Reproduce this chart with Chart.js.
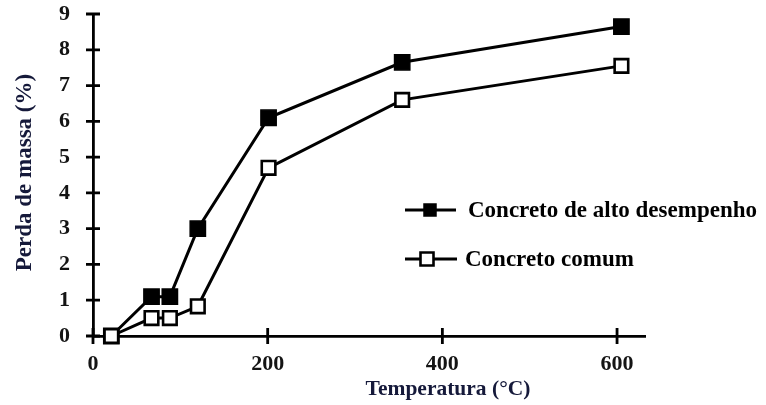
<!DOCTYPE html>
<html>
<head>
<meta charset="utf-8">
<script src="https://cdn.jsdelivr.net/npm/chart.js@4"></script>
<style>
  html, body { margin: 0; padding: 0; background: #fff; }
  canvas { display: block; }
</style>
</head>
<body>
<canvas id="chart" width="766" height="405"></canvas>
<script>
// Mass loss of concrete versus exposure temperature
const temperatures   = [21, 67, 88, 120, 201, 354, 605];
const altoDesempenho = [0, 1.1, 1.1, 3.0, 6.1, 7.65, 8.65];
const comum          = [0, 0.5, 0.5, 0.83, 4.7, 6.6, 7.55];
const xTickValues    = [0, 200, 400, 600];
const yTickValues    = [0, 1, 2, 3, 4, 5, 6, 7, 8, 9];
const seriesNames    = ['Concreto de alto desempenho', 'Concreto comum'];
const xTitle         = 'Temperatura (°C)';
const yTitle         = 'Perda de massa (%)';

const SERIF = '"Liberation Serif", "Times New Roman", serif';
const TICK_COLOR = '#141414';
const TITLE_COLOR = '#15193a';

const toPoints = ys => temperatures.map((t, i) => ({ x: t, y: ys[i] }));

// Cross-axis tick marks (they straddle both axis lines)
const crossTicks = {
  id: 'crossTicks',
  beforeDatasetsDraw(chart) {
    const { ctx, scales: { x, y } } = chart;
    ctx.save();
    ctx.strokeStyle = '#000';
    ctx.lineWidth = 2.8;
    ctx.beginPath();
    y.ticks.forEach(t => {
      const py = y.getPixelForValue(t.value);
      ctx.moveTo(x.left - 7, py);
      ctx.lineTo(x.left + 7, py);
    });
    x.ticks.forEach(t => {
      const px = x.getPixelForValue(t.value);
      ctx.moveTo(px, y.bottom - 8);
      ctx.lineTo(px, y.bottom + 8);
    });
    ctx.stroke();
    ctx.restore();
  }
};

// Axis titles and the in-plot legend
const annotations = {
  id: 'annotations',
  afterDraw(chart) {
    const { ctx } = chart;
    ctx.save();
    ctx.fillStyle = TITLE_COLOR;
    ctx.textAlign = 'center';
    ctx.textBaseline = 'middle';
    ctx.font = 'bold 21.5px ' + SERIF;
    ctx.fillText(xTitle, 448, 389);
    ctx.save();
    ctx.translate(25, 172.5);
    ctx.rotate(-Math.PI / 2);
    ctx.font = 'bold 23px ' + SERIF;
    ctx.fillText(yTitle, 0, 0);
    ctx.restore();

    const rows = [
      { y: 210, x0: 405, x1: 456, cx: 430, side: 12, textX: 468 },
      { y: 259, x0: 405, x1: 457, cx: 427, side: 13, textX: 465 }
    ];
    chart.data.datasets.forEach((ds, i) => {
      const r = rows[i];
      ctx.strokeStyle = ds.borderColor;
      ctx.lineWidth = ds.borderWidth;
      ctx.beginPath();
      ctx.moveTo(r.x0, r.y);
      ctx.lineTo(r.x1, r.y);
      ctx.stroke();
      ctx.fillStyle = ds.pointBackgroundColor;
      ctx.strokeStyle = ds.pointBorderColor;
      ctx.lineWidth = ds.pointBorderWidth;
      ctx.beginPath();
      ctx.rect(r.cx - r.side / 2, r.y - r.side / 2, r.side, r.side);
      ctx.fill();
      ctx.stroke();
      ctx.fillStyle = '#000';
      ctx.textAlign = 'left';
      ctx.textBaseline = 'middle';
      ctx.font = 'bold 23px ' + SERIF;
      ctx.fillText(ds.label, r.textX, r.y + 1);
    });
    ctx.restore();
  }
};

new Chart(document.getElementById('chart'), {
  type: 'line',
  data: {
    datasets: [
      {
        label: seriesNames[0],
        data: toPoints(altoDesempenho),
        borderColor: '#000',
        borderWidth: 3,
        pointStyle: 'rect',
        pointRadius: 10.8,
        pointBackgroundColor: '#000',
        pointBorderColor: '#000',
        pointBorderWidth: 1.5,
        clip: false,
        order: 1
      },
      {
        label: seriesNames[1],
        data: toPoints(comum),
        borderColor: '#000',
        borderWidth: 3,
        pointStyle: 'rect',
        pointRadius: 9.6,
        pointBackgroundColor: '#fff',
        pointBorderColor: '#000',
        pointBorderWidth: 2.6,
        clip: false,
        order: 0
      }
    ]
  },
  options: {
    responsive: false,
    animation: false,
    events: [],
    layout: { padding: { top: 14, right: 121, left: 0, bottom: 0 } },
    plugins: { legend: { display: false }, tooltip: { enabled: false } },
    scales: {
      x: {
        type: 'linear',
        min: 0,
        max: 632,
        afterBuildTicks: s => { s.ticks = xTickValues.map(v => ({ value: v })); },
        afterFit: s => { s.height = 69; s.paddingLeft = 0; s.paddingRight = 0; },
        grid: { display: false, drawTicks: false },
        border: { display: true, color: '#000', width: 2.8 },
        ticks: {
          padding: 15,
          color: TICK_COLOR,
          font: { family: SERIF, size: 22, weight: 'bold' },
          maxRotation: 0
        }
      },
      y: {
        type: 'linear',
        min: 0,
        max: 9,
        afterBuildTicks: s => { s.ticks = yTickValues.map(v => ({ value: v })); },
        afterFit: s => { s.width = 93; s.paddingTop = 0; s.paddingBottom = 0; },
        grid: { display: false, drawTicks: false },
        border: { display: true, color: '#000', width: 2.8 },
        ticks: {
          padding: 23,
          color: TICK_COLOR,
          font: { family: SERIF, size: 22, weight: 'bold' }
        }
      }
    }
  },
  plugins: [crossTicks, annotations]
});
</script>
</body>
</html>
